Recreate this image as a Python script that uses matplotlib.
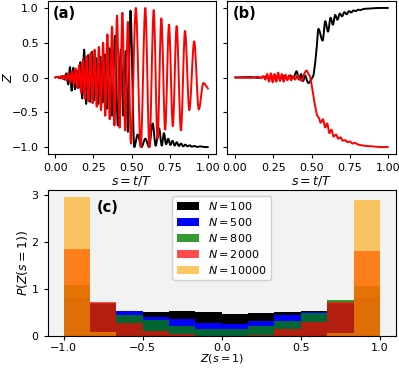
import numpy as np
import matplotlib
matplotlib.use("Agg")
import matplotlib.pyplot as plt
from matplotlib.path import Path
from matplotlib.patches import PathPatch

# ---------------- data: panel (a) (local extrema)
black_a_s = [0.000, 0.020, 0.035, 0.050, 0.062, 0.074, 0.086, 0.097, 0.108, 0.119, 0.130, 0.141,
             0.153, 0.165, 0.177, 0.190, 0.203, 0.216, 0.229, 0.242, 0.255, 0.268, 0.282, 0.296,
             0.310, 0.325, 0.340, 0.356, 0.372, 0.392, 0.410, 0.430, 0.447, 0.462, 0.476, 0.493,
             0.518, 0.540, 0.565, 0.590, 0.615, 0.638, 0.658, 0.680, 0.698, 0.712, 0.726, 0.740,
             0.754, 0.768, 0.782, 0.796, 0.810, 0.824, 0.838, 0.852, 0.866, 0.880, 0.895, 0.910,
             0.930, 0.950, 0.975, 1.000]
black_a_z = [0.00, 0.01, -0.01, 0.02, -0.03, 0.06, -0.10, 0.15, -0.19, 0.14, -0.17, 0.10,
             -0.15, 0.22, -0.30, 0.40, -0.38, 0.32, -0.35, 0.37, -0.33, 0.28, -0.38, 0.30,
             -0.36, 0.33, -0.45, 0.42, -0.55, 0.60, -0.69, 0.40, -0.55, 0.38, -0.78, 0.96,
             -1.00, -0.82, -1.00, -0.88, -1.00, -0.66, -0.98, -0.73, -0.98, -0.80, -0.96, -0.88,
             -0.97, -0.91, -0.98, -0.93, -0.985, -0.95, -0.99, -0.965, -0.99, -0.975, -0.995, -0.985,
             -0.998, -0.99, -1.00, -1.00]

red_a_s = [0.000, 0.014, 0.026, 0.038, 0.050, 0.062, 0.074, 0.086, 0.098, 0.110, 0.122, 0.134,
           0.146, 0.158, 0.170, 0.182, 0.194, 0.206, 0.219, 0.232, 0.245, 0.258, 0.272, 0.286,
           0.300, 0.314, 0.328, 0.342, 0.357, 0.372, 0.388, 0.405, 0.422, 0.440, 0.458, 0.476,
           0.496, 0.528, 0.560, 0.590, 0.617, 0.645, 0.670, 0.695, 0.720, 0.745, 0.770, 0.795,
           0.823, 0.850, 0.878, 0.910, 0.940, 0.970, 1.000]
red_a_z = [0.00, 0.01, -0.01, 0.02, -0.02, 0.03, -0.04, 0.06, -0.07, 0.09, -0.10, 0.13,
           -0.15, 0.18, -0.22, 0.26, -0.30, 0.30, -0.34, 0.35, -0.37, 0.40, -0.42, 0.44,
           -0.47, 0.50, -0.55, 0.62, -0.60, 0.73, -0.69, 0.89, -0.72, 0.93, -0.76, 0.80,
           -0.95, 1.00, -1.00, 1.00, -1.00, 0.97, -0.88, 0.85, -0.75, 0.76, -0.70, 0.74,
           -0.76, 0.67, -0.47, 0.52, -0.46, -0.08, -0.16]

# ---------------- data: panel (b)
black_b_s = [0.00, 0.10, 0.15, 0.20, 0.22, 0.24, 0.26, 0.28, 0.30, 0.32, 0.34, 0.36, 0.38,
             0.403, 0.418, 0.432, 0.445, 0.458, 0.470, 0.480, 0.500, 0.515, 0.534, 0.545,
             0.573, 0.590, 0.608, 0.625, 0.640, 0.655, 0.670, 0.685, 0.700, 0.715, 0.730,
             0.745, 0.760, 0.775, 0.790, 0.805, 0.820, 0.840, 0.870, 0.900, 0.950, 1.00]
black_b_z = [0.00, 0.005, -0.005, 0.01, -0.01, 0.015, -0.01, 0.02, -0.015, 0.025, -0.02, 0.03, -0.01,
             0.09, -0.03, 0.05, -0.05, 0.03, -0.04, -0.08, -0.02, 0.06, 0.43, 0.70,
             0.53, 0.81, 0.66, 0.86, 0.76, 0.90, 0.83, 0.92, 0.88, 0.94, 0.91,
             0.955, 0.935, 0.965, 0.955, 0.975, 0.97, 0.985, 0.99, 0.995, 1.00, 1.00]

red_b_s = [0.00, 0.10, 0.15, 0.17, 0.185, 0.198, 0.210, 0.222, 0.234, 0.246, 0.258, 0.270,
           0.282, 0.294, 0.306, 0.318, 0.330, 0.342, 0.354, 0.367, 0.380, 0.393, 0.408, 0.423,
           0.438, 0.452, 0.468, 0.480, 0.492, 0.510, 0.534, 0.550, 0.560, 0.575, 0.590, 0.602,
           0.618, 0.630, 0.645, 0.660, 0.675, 0.690, 0.705, 0.720, 0.735, 0.750, 0.770, 0.785,
           0.800, 0.830, 0.860, 0.900, 0.950, 1.00]
red_b_z = [0.00, -0.005, 0.01, -0.01, 0.02, -0.03, 0.05, -0.06, 0.06, -0.07, 0.05, -0.06,
           0.07, -0.05, 0.05, -0.06, 0.04, -0.04, 0.03, -0.04, 0.02, -0.03, 0.03, -0.02,
           -0.05, 0.05, 0.10, 0.05, 0.00, -0.23, -0.52, -0.59, -0.65, -0.60, -0.72, -0.66,
           -0.80, -0.75, -0.85, -0.82, -0.88, -0.86, -0.91, -0.90, -0.93, -0.92, -0.95, -0.94,
           -0.96, -0.975, -0.985, -0.99, -1.00, -1.00]

# ---------------- data: panel (c) histogram densities per bin
hist_labels = ["$N=100$", "$N=500$", "$N=800$", "$N=2000$", "$N=10000$"]
dens_N100 = [0.52, 0.50, 0.50, 0.51, 0.53, 0.50, 0.47, 0.485, 0.50, 0.535, 0.50, 0.50]
dens_N500 = [0.80, 0.68, 0.53, 0.40, 0.365, 0.28, 0.26, 0.32, 0.44, 0.505, 0.68, 0.80]
dens_N800 = [1.075, 0.70, 0.45, 0.35, 0.21, 0.14, 0.14, 0.21, 0.32, 0.49, 0.77, 1.07]
dens_N2000 = [1.85, 0.72, 0.28, 0.10, 0.035, 0.0, 0.0, 0.02, 0.14, 0.29, 0.73, 1.81]
dens_N10000 = [2.95, 0.09, 0.0, 0.0, 0.0, 0.0, 0.0, 0.0, 0.0, 0.0, 0.07, 2.88]
n_bins = 12

hist_colors = ["black", "blue", "green", "red", "orange"]
hist_alphas = [1.0, 1.0, 0.8, 0.7, 0.6]

# ---------------- figure
plt.rcParams["font.family"] = "DejaVu Sans"
plt.rcParams["mathtext.fontset"] = "dejavusans"
fs = 8
fl = 9

fig = plt.figure(figsize=(3.99, 3.69), dpi=100)
W, H = 399.0, 369.0


def box(l, r, t, b):
    return [l / W, 1 - b / H, (r - l) / W, (b - t) / H]


def smooth_curve(ax, xs, ys, color, lw):
    """Draw a smooth curve through the given points (cubic Bezier segments,
    flat tangents at local extrema)."""
    n = len(xs)
    m = []
    for i in range(n):
        if i == 0:
            m.append((ys[1] - ys[0]) / (xs[1] - xs[0]))
        elif i == n - 1:
            m.append((ys[-1] - ys[-2]) / (xs[-1] - xs[-2]))
        elif (ys[i] - ys[i - 1]) * (ys[i + 1] - ys[i]) <= 0:
            m.append(0.0)
        else:
            m.append((ys[i + 1] - ys[i - 1]) / (xs[i + 1] - xs[i - 1]))
    verts = [(xs[0], ys[0])]
    codes = [Path.MOVETO]
    for i in range(n - 1):
        dx = xs[i + 1] - xs[i]
        verts += [(xs[i] + dx / 3, ys[i] + m[i] * dx / 3),
                  (xs[i + 1] - dx / 3, ys[i + 1] - m[i + 1] * dx / 3),
                  (xs[i + 1], ys[i + 1])]
        codes += [Path.CURVE4] * 3
    ax.add_patch(PathPatch(Path(verts, codes), facecolor="none",
                           edgecolor=color, lw=lw, capstyle="round", joinstyle="round"))


ax_a = fig.add_axes(box(47.5, 215.6, 1.0, 154.0))
ax_b = fig.add_axes(box(227.4, 395.6, 1.0, 154.0), sharey=ax_a)
ax_c = fig.add_axes(box(47.7, 395.8, 190.0, 336.0))

lw = 1.4
smooth_curve(ax_a, black_a_s, black_a_z, "black", lw)
smooth_curve(ax_a, red_a_s, red_a_z, "red", lw)
smooth_curve(ax_b, black_b_s, black_b_z, "black", lw)
smooth_curve(ax_b, red_b_s, red_b_z, "red", lw)

for ax, lab in [(ax_a, "(a)"), (ax_b, "(b)")]:
    ax.set_xlim(-0.05, 1.05)
    ax.set_xticks([0.0, 0.25, 0.5, 0.75, 1.0])
    ax.set_xticklabels(["0.00", "0.25", "0.50", "0.75", "1.00"])
    ax.set_xlabel("$s=t/T$", fontsize=fl, labelpad=1)
    ax.tick_params(labelsize=fs, length=3)
    ax.text(0.03, 0.965, lab, transform=ax.transAxes, fontsize=10.5,
            fontweight="bold", va="top", ha="left")
ax_a.set_ylim(-1.1, 1.1)
ax_a.set_yticks([-1.0, -0.5, 0.0, 0.5, 1.0])
ax_a.set_ylabel("$Z$", fontsize=fl)
ax_a.yaxis.set_label_coords(-0.195, 0.5)
ax_b.tick_params(labelleft=False)

# panel (c)
edges = np.linspace(-1.0, 1.0, n_bins + 1)
centers = 0.5 * (edges[:-1] + edges[1:])
ax_c.set_facecolor("#f2f2f2")
for vals, col, al, lab in zip([dens_N100, dens_N500, dens_N800, dens_N2000, dens_N10000],
                              hist_colors, hist_alphas, hist_labels):
    ax_c.hist(centers, bins=edges, weights=vals, color=col, alpha=al, label=lab)
ax_c.set_xlim(-1.1, 1.1)
ax_c.set_ylim(0, 3.1)
ax_c.set_xticks([-1.0, -0.5, 0.0, 0.5, 1.0])
ax_c.set_yticks([0, 1, 2, 3])
ax_c.tick_params(labelsize=fs, length=3)
ax_c.tick_params(axis="x", pad=2)
ax_c.set_xlabel("$Z(s=1)$", fontsize=8)
ax_c.xaxis.set_label_coords(0.5, -0.11)
ax_c.set_ylabel("$P(Z(s=1))$", fontsize=fl)
ax_c.yaxis.set_label_coords(-0.052, 0.5)
ax_c.text(0.14, 0.93, "(c)", transform=ax_c.transAxes, fontsize=10.5,
          fontweight="bold", va="top", ha="left")
ax_c.legend(loc="upper center", fontsize=fs, labelspacing=0.35, handlelength=2.0,
            borderpad=0.4, framealpha=0.9)

fig.savefig("out.png", dpi=100)
